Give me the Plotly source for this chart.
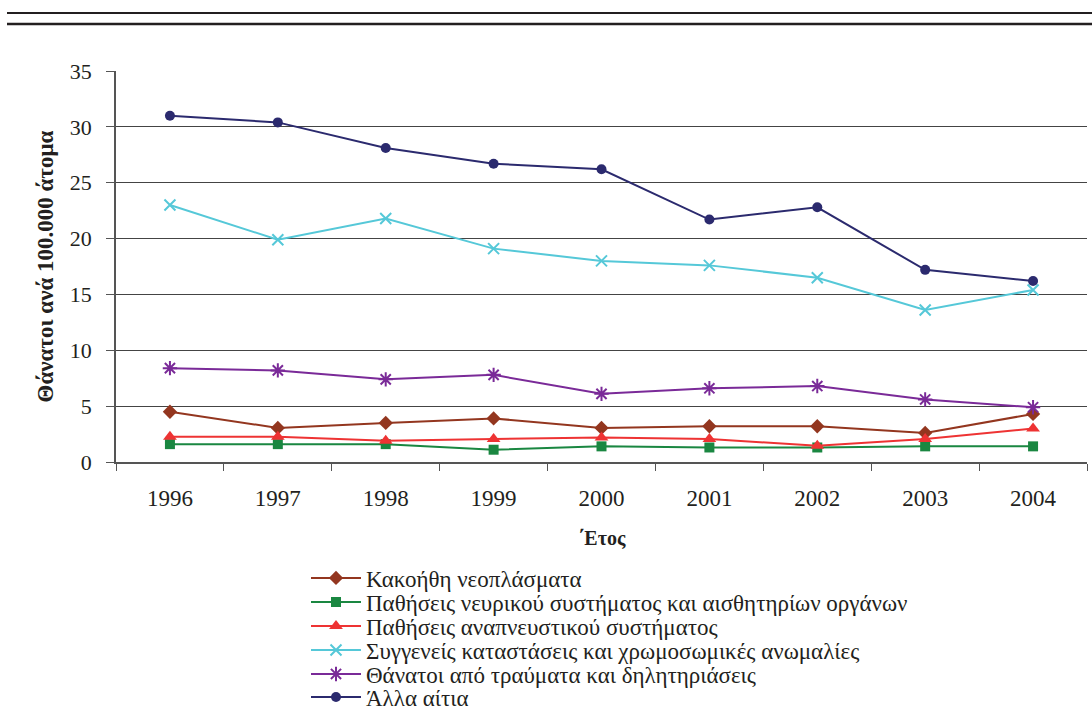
import plotly.graph_objects as go

years = ["1996", "1997", "1998", "1999", "2000", "2001", "2002", "2003", "2004"]
neoplasmata = [4.5, 3.05, 3.5, 3.9, 3.05, 3.2, 3.2, 2.6, 4.3]
neyriko = [1.6, 1.6, 1.6, 1.1, 1.4, 1.3, 1.3, 1.4, 1.4]
anapneystiko = [2.25, 2.25, 1.9, 2.05, 2.2, 2.05, 1.45, 2.05, 3.0]
syggeneis = [23.0, 19.9, 21.8, 19.1, 18.0, 17.6, 16.5, 13.6, 15.4]
traymata = [8.4, 8.2, 7.4, 7.8, 6.1, 6.6, 6.8, 5.6, 4.9]
alla = [31.0, 30.4, 28.1, 26.7, 26.2, 21.7, 22.8, 17.2, 16.2]

names = [
    "Κακοήθη νεοπλάσματα",
    "Παθήσεις νευρικού συστήματος και αισθητηρίων οργάνων",
    "Παθήσεις αναπνευστικού συστήματος",
    "Συγγενείς καταστάσεις και χρωμοσωμικές ανωμαλίες",
    "Θάνατοι από τραύματα και δηλητηριάσεις",
    "Άλλα αίτια",
]
series = [neoplasmata, neyriko, anapneystiko, syggeneis, traymata, alla]
colors = ["#93361f", "#1a8741", "#ee3333", "#55c8d8", "#7a2a98", "#2b2a6e"]
symbols = ["diamond", "square", "triangle-up", "x-thin-open", "asterisk-open", "circle"]
sizes = [11, 10, 12, 11, 12, 10]

FONT = "Liberation Serif"
TXT = "#231f20"
legend_rows_px = [578, 602, 626, 650, 674, 697]
y_title = "<b>Θάνατοι ανά 100.000 άτομα</b>"
x_title = "<b>΄Ετος</b>"

fig = go.Figure()
layout_legends = {}
for i, (n, s, c, sym, sz) in enumerate(zip(names, series, colors, symbols, sizes)):
    marker = dict(symbol=sym, size=sz, color=c)
    if sym.endswith("open"):
        marker["line"] = dict(color=c, width=2)
    lg = "legend" if i == 0 else f"legend{i + 1}"
    fig.add_trace(go.Scatter(
        x=years, y=s, name=n, mode="lines+markers",
        line=dict(color=c, width=2), marker=marker, legend=lg,
    ))
    layout_legends[lg] = dict(
        xref="container", yref="container",
        x=306 / 1092, y=1 - legend_rows_px[i] / 710,
        xanchor="left", yanchor="middle",
        font=dict(family=FONT, size=23, color=TXT),
        bgcolor="rgba(0,0,0,0)", itemwidth=50,
    )

fig.update_layout(
    width=1092, height=710,
    margin=dict(l=116, r=5, t=71, b=248, autoexpand=False),
    paper_bgcolor="white", plot_bgcolor="white",
    font=dict(family=FONT, size=20, color=TXT),
    showlegend=True,
    xaxis=dict(
        type="category", showgrid=False, showline=True, linecolor="#555555",
        linewidth=1.5, ticks="outside", tickson="boundaries", ticklen=7,
        tickcolor="#555555", tickfont=dict(family=FONT, size=23, color=TXT),
        ticklabelstandoff=15, automargin=True, tickangle=0,
        title=dict(text=x_title, font=dict(family=FONT, size=20), standoff=21),
        range=[-0.5, 8.5],
    ),
    yaxis=dict(
        range=[0, 35], dtick=5, showgrid=True, gridcolor="#444444", gridwidth=1,
        showline=True, linecolor="#555555", linewidth=1.5, ticks="outside",
        ticklen=8, tickcolor="#555555", tickfont=dict(family=FONT, size=22, color=TXT),
        ticklabelstandoff=10, zeroline=False, automargin=True,
    ),
    annotations=[
        dict(text=y_title, xref="paper", yref="paper",
             x=(45 - 116) / 971, y=0.5, xanchor="center", yanchor="middle",
             textangle=-90, showarrow=False,
             font=dict(family=FONT, size=23, color=TXT)),
    ],
    shapes=[
        dict(type="line", xref="paper", yref="paper",
             x0=(7 - 116) / 971, x1=1.01, y0=(462 - 13) / 391, y1=(462 - 13) / 391,
             line=dict(color=TXT, width=2)),
        dict(type="line", xref="paper", yref="paper",
             x0=(7 - 116) / 971, x1=1.01, y0=(462 - 24) / 391, y1=(462 - 24) / 391,
             line=dict(color=TXT, width=2.5)),
    ],
    **layout_legends,
)

fig.write_html("out.html", config={"displayModeBar": False},
               post_script="document.body.style.margin='0px';")
